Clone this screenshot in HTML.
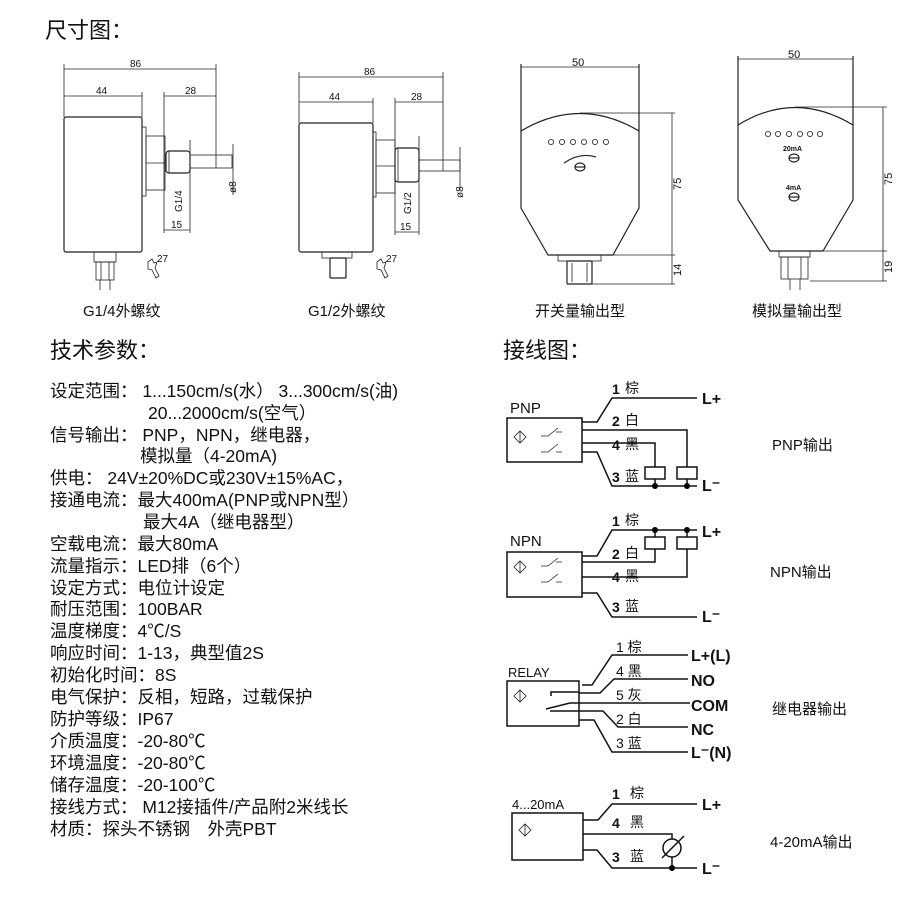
<!DOCTYPE html>
<html><head><meta charset="utf-8"><style>
html,body{margin:0;padding:0;background:#fff;}
svg{display:block;}
text{font-family:"Liberation Sans","Noto Sans CJK SC",sans-serif;fill:#111;}
.d{font-size:10px;}
.l{stroke:#222;stroke-width:1.2;fill:none;}
.t{stroke:#222;stroke-width:0.8;fill:none;}
.w{stroke:#111;stroke-width:1.5;fill:none;}
.sp{font-size:17.5px;}
.b{font-weight:bold;font-size:16px;}
.n{font-size:14px;}
</style></head><body>
<svg width="920" height="903" viewBox="0 0 920 903" xmlns="http://www.w3.org/2000/svg">
<text x="45" y="38" style="font-size:22px">尺寸图：</text>

<!-- drawing 1 -->
<g>
<rect x="64" y="117" width="78" height="135" rx="2" class="l"/>
<rect x="142" y="127" width="4" height="69" class="t"/>
<rect x="146" y="136" width="19" height="54" class="t"/>
<line x1="146" y1="163" x2="165" y2="163" class="t"/>
<rect x="166" y="151" width="24" height="22" rx="3" class="l" stroke-width="2"/>
<line x1="169" y1="151" x2="169" y2="173" class="t"/>
<rect x="190" y="155" width="42" height="13" class="t"/>
<line x1="64" y1="64" x2="64" y2="117" class="t"/>
<line x1="216" y1="64" x2="216" y2="168" class="t"/>
<line x1="142" y1="92" x2="142" y2="117" class="t"/>
<line x1="164" y1="92" x2="164" y2="233" class="t"/>
<line x1="190" y1="140" x2="190" y2="233" class="t"/>
<line x1="64" y1="69" x2="216" y2="69" class="t"/>
<line x1="64" y1="96" x2="142" y2="96" class="t"/>
<line x1="164" y1="96" x2="216" y2="96" class="t"/>
<line x1="164" y1="230" x2="190" y2="230" class="t"/>
<line x1="233" y1="144" x2="233" y2="195" class="t"/>
<text x="130" y="67" class="d">86</text>
<text x="96" y="94" class="d">44</text>
<text x="185" y="94" class="d">28</text>
<text x="171" y="228" class="d">15</text>
<text transform="translate(182,212) rotate(-90)" class="d">G1/4</text>
<text transform="translate(236,193) rotate(-90)" class="d">ø8</text>
<rect x="94" y="252" width="22" height="10" class="t"/>
<rect x="96" y="262" width="18" height="18" class="t"/>
<line x1="101" y1="262" x2="101" y2="280" class="t"/><line x1="109" y1="262" x2="109" y2="280" class="t"/>
<line x1="100" y1="280" x2="100" y2="290" class="t"/><line x1="110" y1="280" x2="110" y2="290" class="t"/>
<path d="M148 262 l4 -3 l2 4 l3 -1 l-2 6 l4 8 l-3 2 l-4 -8 l-4 -1 z" class="t"/>
<text x="157" y="262" class="d">27</text>
</g>

<!-- drawing 2 -->
<g>
<rect x="299" y="123" width="74" height="129" rx="2" class="l"/>
<rect x="373" y="132" width="3" height="65" class="t"/>
<rect x="376" y="140" width="19" height="53" class="t"/>
<line x1="376" y1="166" x2="395" y2="166" class="t"/>
<rect x="395" y="148" width="24" height="34" rx="3" class="l" stroke-width="2"/>
<line x1="398" y1="148" x2="398" y2="182" class="t"/>
<rect x="419" y="160" width="41" height="11" class="t"/>
<line x1="299" y1="72" x2="299" y2="123" class="t"/>
<line x1="443" y1="72" x2="443" y2="171" class="t"/>
<line x1="373" y1="98" x2="373" y2="123" class="t"/>
<line x1="395" y1="98" x2="395" y2="235" class="t"/>
<line x1="419" y1="136" x2="419" y2="235" class="t"/>
<line x1="299" y1="77" x2="443" y2="77" class="t"/>
<line x1="299" y1="102" x2="373" y2="102" class="t"/>
<line x1="395" y1="102" x2="443" y2="102" class="t"/>
<line x1="395" y1="232" x2="419" y2="232" class="t"/>
<line x1="460" y1="147" x2="460" y2="190" class="t"/>
<text x="364" y="75" class="d">86</text>
<text x="329" y="100" class="d">44</text>
<text x="411" y="100" class="d">28</text>
<text x="400" y="230" class="d">15</text>
<text transform="translate(411,214) rotate(-90)" class="d">G1/2</text>
<text transform="translate(463,198) rotate(-90)" class="d">ø8</text>
<rect x="322" y="252" width="30" height="6" class="t"/>
<rect x="330" y="258" width="16" height="20" rx="1" class="l" stroke-width="1.8"/>
<path d="M377 262 l4 -3 l2 4 l3 -1 l-2 6 l4 8 l-3 2 l-4 -8 l-4 -1 z" class="t"/>
<text x="386" y="262" class="d">27</text>
</g>

<!-- drawing 3 -->
<g>
<path d="M521 64 L521 208 L548 255 L613 255 L639 208 L639 64" class="l"/>
<path d="M521 131 Q580 96 639 131" class="l"/>
<line x1="521" y1="67" x2="639" y2="67" class="t"/>
<text x="572" y="66" class="d" style="font-size:11px">50</text>
<g class="t"><circle cx="551" cy="142" r="2.6"/><circle cx="562" cy="142" r="2.6"/><circle cx="573" cy="142" r="2.6"/><circle cx="584" cy="142" r="2.6"/><circle cx="595" cy="142" r="2.6"/><circle cx="606" cy="142" r="2.6"/></g>
<path d="M564 163 Q580 152 596 157" class="l" stroke-width="2"/>
<ellipse cx="580" cy="167" rx="5" ry="4" class="l" stroke-width="1.8"/><line x1="575" y1="167" x2="585" y2="167" class="l"/>
<line x1="580" y1="113" x2="675" y2="113" class="t"/>
<line x1="613" y1="255" x2="675" y2="255" class="t"/>
<line x1="592" y1="284" x2="675" y2="284" class="t"/>
<line x1="672" y1="113" x2="672" y2="284" class="t"/>
<text transform="translate(681,190) rotate(-90)" style="font-size:11px">75</text>
<text transform="translate(681,276) rotate(-90)" style="font-size:11px">14</text>
<rect x="558" y="255" width="43" height="6" class="t"/>
<rect x="567" y="261" width="25" height="23" rx="1" class="l" stroke-width="1.8"/>
<line x1="572" y1="263" x2="572" y2="282" class="t"/><line x1="587" y1="263" x2="587" y2="282" class="t"/>
</g>

<!-- drawing 4 -->
<g>
<path d="M738 56 L738 200 L770 251 L823 251 L853 200 L853 56" class="l"/>
<path d="M738 125 Q795 90 853 125" class="l"/>
<line x1="738" y1="59" x2="853" y2="59" class="t"/>
<text x="788" y="58" style="font-size:11px">50</text>
<g class="t"><circle cx="768" cy="134" r="2.6"/><circle cx="778" cy="134" r="2.6"/><circle cx="789" cy="134" r="2.6"/><circle cx="800" cy="134" r="2.6"/><circle cx="810" cy="134" r="2.6"/><circle cx="820" cy="134" r="2.6"/></g>
<text x="783" y="151" style="font-size:7px;font-weight:bold">20mA</text>
<ellipse cx="794" cy="158" rx="5" ry="4" class="l" stroke-width="1.8"/><line x1="789" y1="158" x2="799" y2="158" class="l"/>
<text x="786" y="190" style="font-size:7px;font-weight:bold">4mA</text>
<ellipse cx="794" cy="197" rx="5" ry="4" class="l" stroke-width="1.8"/><line x1="789" y1="197" x2="799" y2="197" class="l"/>
<line x1="795" y1="107" x2="887" y2="107" class="t"/>
<line x1="823" y1="251" x2="887" y2="251" class="t"/>
<line x1="810" y1="281" x2="887" y2="281" class="t"/>
<line x1="883" y1="107" x2="883" y2="281" class="t"/>
<text transform="translate(892,185) rotate(-90)" style="font-size:11px">75</text>
<text transform="translate(892,273) rotate(-90)" style="font-size:11px">19</text>
<rect x="779" y="251" width="31" height="6" class="t"/>
<rect x="781" y="257" width="27" height="22" class="t"/>
<line x1="788" y1="257" x2="788" y2="279" class="t"/><line x1="801" y1="257" x2="801" y2="279" class="t"/>
<line x1="790" y1="279" x2="790" y2="290" class="t"/><line x1="800" y1="279" x2="800" y2="290" class="t"/>
</g>

<text x="83" y="316" style="font-size:15px">G1/4外螺纹</text>
<text x="308" y="316" style="font-size:15px">G1/2外螺纹</text>
<text x="535" y="316" style="font-size:15px">开关量输出型</text>
<text x="752" y="316" style="font-size:15px">模拟量输出型</text>

<text x="50" y="358" style="font-size:22px">技术参数：</text>
<text x="503" y="358" style="font-size:22px">接线图：</text>

<g class="sp">
<text x="50" y="397">设定范围： 1...150cm/s(水） 3...300cm/s(油)</text>
<text x="148" y="419">20...2000cm/s(空气）</text>
<text x="50" y="441">信号输出： PNP，NPN，继电器，</text>
<text x="140" y="462">模拟量（4-20mA)</text>
<text x="50" y="484">供电： 24V±20%DC或230V±15%AC，</text>
<text x="50" y="506">接通电流：最大400mA(PNP或NPN型）</text>
<text x="143" y="528">最大4A（继电器型）</text>
<text x="50" y="550">空载电流：最大80mA</text>
<text x="50" y="572">流量指示：LED排（6个）</text>
<text x="50" y="594">设定方式：电位计设定</text>
<text x="50" y="615">耐压范围：100BAR</text>
<text x="50" y="637">温度梯度：4℃/S</text>
<text x="50" y="659">响应时间：1-13，典型值2S</text>
<text x="50" y="681">初始化时间：8S</text>
<text x="50" y="703">电气保护：反相，短路，过载保护</text>
<text x="50" y="725">防护等级：IP67</text>
<text x="50" y="747">介质温度：-20-80℃</text>
<text x="50" y="769">环境温度：-20-80℃</text>
<text x="50" y="791">储存温度：-20-100℃</text>
<text x="50" y="813">接线方式： M12接插件/产品附2米线长</text>
<text x="50" y="835">材质：探头不锈钢　外壳PBT</text>
</g>

<!-- PNP -->
<g>
<text x="510" y="413" style="font-size:15px">PNP</text>
<rect x="507" y="418" width="75" height="44" class="w"/>
<path d="M514 437 l6 -6 l6 6 l-6 6 z M520 431 v12" class="t"/>
<path d="M541 436 h7 l10 -8 M556 432 h6" class="t"/>
<path d="M541 452 h7 l10 -8 M556 452 h6" class="t"/>
<path d="M582 422 H597 L612 398 H697" class="w"/>
<path d="M582 430 H687 V467" class="w"/>
<path d="M582 443 H655 V467" class="w"/>
<rect x="645" y="467" width="20" height="12" class="w"/><rect x="677" y="467" width="20" height="12" class="w"/>
<path d="M655 479 V486 M687 479 V486" class="w"/>
<path d="M582 452 H597 L612 486 H697" class="w"/>
<circle cx="655" cy="486" r="3"/><circle cx="687" cy="486" r="3"/>
<text x="612" y="394" class="b" style="font-size:14px">1</text><text x="625" y="393" class="n">棕</text>
<text x="612" y="426" class="b" style="font-size:14px">2</text><text x="625" y="425" class="n">白</text>
<text x="612" y="450" class="b" style="font-size:14px">4</text><text x="625" y="449" class="n">黑</text>
<text x="612" y="482" class="b" style="font-size:14px">3</text><text x="625" y="481" class="n">蓝</text>
<text x="702" y="404" class="b">L+</text><text x="702" y="491" class="b">L⁻</text>
</g>

<!-- NPN -->
<g>
<text x="510" y="546" style="font-size:15px">NPN</text>
<rect x="507" y="552" width="75" height="45" class="w"/>
<path d="M514 567 l6 -6 l6 6 l-6 6 z M520 561 v12" class="t"/>
<path d="M541 566 h7 l10 -8 M556 562 h6" class="t"/>
<path d="M541 582 h7 l10 -8 M556 582 h6" class="t"/>
<path d="M582 556 H597 L612 530 H697" class="w"/>
<path d="M655 530 V537 M687 530 V537" class="w"/>
<rect x="645" y="537" width="20" height="12" class="w"/><rect x="677" y="537" width="20" height="12" class="w"/>
<path d="M582 562 H655 V549" class="w"/>
<path d="M582 577 H687 V549" class="w"/>
<path d="M582 593 H597 L612 617 H697" class="w"/>
<circle cx="655" cy="530" r="3"/><circle cx="687" cy="530" r="3"/>
<text x="612" y="526" class="b" style="font-size:14px">1</text><text x="625" y="525" class="n">棕</text>
<text x="612" y="559" class="b" style="font-size:14px">2</text><text x="625" y="558" class="n">白</text>
<text x="612" y="582" class="b" style="font-size:14px">4</text><text x="625" y="581" class="n">黑</text>
<text x="612" y="612" class="b" style="font-size:14px">3</text><text x="625" y="611" class="n">蓝</text>
<text x="702" y="537" class="b">L+</text><text x="702" y="622" class="b">L⁻</text>
</g>

<!-- RELAY -->
<g>
<text x="508" y="677" style="font-size:13px">RELAY</text>
<rect x="507" y="681" width="72" height="45" class="w"/>
<path d="M514 696 l6 -6 l6 6 l-6 6 z M520 690 v12" class="t"/>
<path d="M582 685 H592 L612 655 H688" class="w"/>
<path d="M551 696 V692 H579 M579 693 H600 L614 679 H688" class="w"/>
<path d="M546 709 L570 703 H690" class="w"/>
<path d="M550 711 H603 L618 727 H688" class="w"/>
<path d="M579 720 H594 L612 752 H688" class="w"/>
<text x="616" y="652" class="n">1 棕</text>
<text x="616" y="676" class="n">4 黑</text>
<text x="616" y="700" class="n">5 灰</text>
<text x="616" y="724" class="n">2 白</text>
<text x="616" y="748" class="n">3 蓝</text>
<text x="691" y="661" class="b">L+(L)</text>
<text x="691" y="686" class="b">NO</text>
<text x="691" y="711" class="b">COM</text>
<text x="691" y="735" class="b">NC</text>
<text x="691" y="758" class="b">L⁻(N)</text>
</g>

<!-- 4-20mA -->
<g>
<text x="512" y="809" style="font-size:13px">4...20mA</text>
<rect x="512" y="813" width="71" height="47" class="w"/>
<path d="M519 830 l6 -6 l6 6 l-6 6 z M525 824 v12" class="t"/>
<path d="M583 820 H598 L612 804 H697" class="w"/>
<path d="M583 834 H672 V839" class="w"/>
<circle cx="672" cy="848" r="9" class="w"/>
<path d="M662 858 L684 836" class="w"/>
<path d="M672 857 V868" class="w"/>
<path d="M583 850 H597 L612 868 H697" class="w"/>
<circle cx="672" cy="868" r="3"/>
<text x="612" y="799" class="b" style="font-size:14px">1</text><text x="630" y="798" class="n">棕</text>
<text x="612" y="828" class="b" style="font-size:14px">4</text><text x="630" y="827" class="n">黑</text>
<text x="612" y="862" class="b" style="font-size:14px">3</text><text x="630" y="861" class="n">蓝</text>
<text x="702" y="810" class="b">L+</text><text x="702" y="874" class="b">L⁻</text>
</g>

<text x="772" y="450" style="font-size:15px">PNP输出</text>
<text x="770" y="577" style="font-size:15px">NPN输出</text>
<text x="772" y="714" style="font-size:15px">继电器输出</text>
<text x="770" y="847" style="font-size:15px">4-20mA输出</text>
</svg>
</body></html>
